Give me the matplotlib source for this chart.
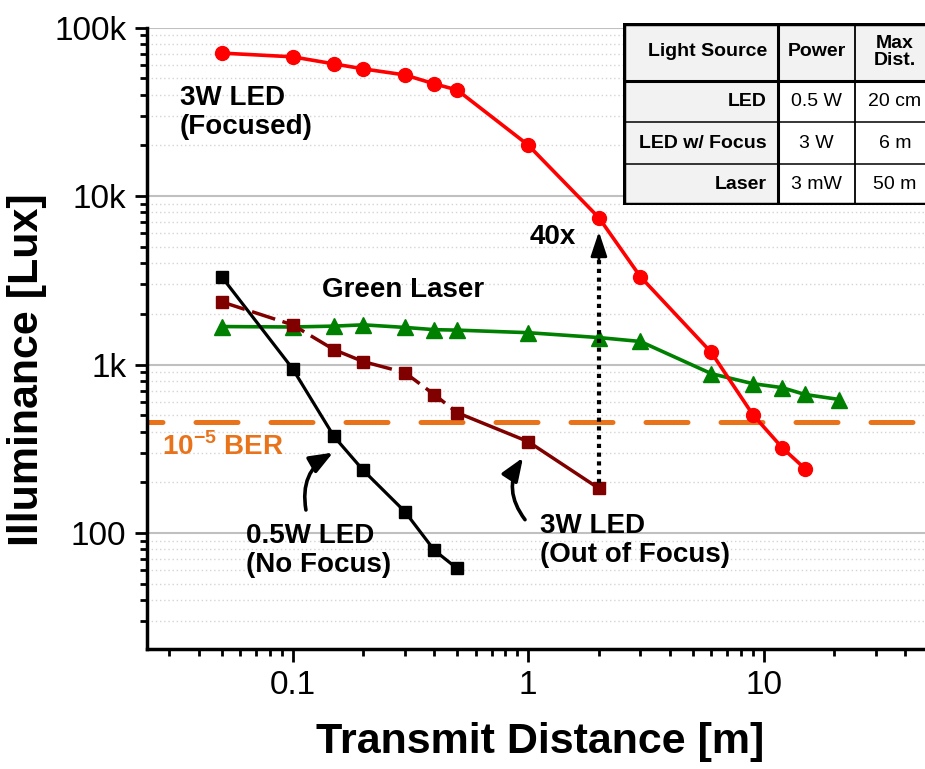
import numpy as np
import matplotlib
matplotlib.use("Agg")
import matplotlib.pyplot as plt
from matplotlib.ticker import LogLocator, FixedLocator, FixedFormatter, NullFormatter
from matplotlib.patches import Rectangle

# 3W LED focado
dist_foc = [0.05, 0.1, 0.15, 0.2, 0.3, 0.4, 0.5, 1, 2, 3, 6, 9, 12, 15]
lux_foc = [70500, 67000, 60800, 56800, 52300, 46300, 42600, 20100, 7430, 3320, 1180, 505, 321, 241]

# laser verde
dist_laser = [0.05, 0.1, 0.15, 0.2, 0.3, 0.4, 0.5, 1, 2, 3, 6, 9, 12, 15, 21]
lux_laser = [1680, 1670, 1690, 1720, 1660, 1610, 1600, 1545, 1445, 1370, 883, 770, 729, 664, 620]

# 0.5W LED sem foco
dist_05 = [0.05, 0.1, 0.15, 0.2, 0.3, 0.4, 0.5]
lux_05 = [3320, 946, 374, 235, 134, 79, 61.6]

# 3W LED fora de foco
dist_3w = [0.05, 0.1, 0.15, 0.2, 0.3, 0.4, 0.5, 1, 2]
lux_3w = [2355, 1720, 1225, 1040, 895, 663, 518, 349, 184]

ber_lim = 458  # limiar BER 10^-5

ytick_vals = [100, 1000, 10000, 100000]
ytick_lbl = ["100", "1k", "10k", "100k"]
xtick_vals = [0.1, 1, 10]
xtick_lbl = ["0.1", "1", "10"]

# tabela
tab_head = ["Light Source", "Power", "Max\nDist."]
tab_fonte = ["LED", "LED w/ Focus", "Laser"]
tab_pot = ["0.5 W", "3 W", "3 mW"]
tab_dist = ["20 cm", "6 m", "50 m"]

plt.rcParams['font.family'] = ['Liberation Sans', 'DejaVu Sans']
plt.rcParams['mathtext.fontset'] = 'custom'
plt.rcParams['mathtext.rm'] = 'Liberation Sans'
plt.rcParams['mathtext.bf'] = 'Liberation Sans:bold'

fig = plt.figure(figsize=(9.25, 7.69), dpi=100)
ax = fig.add_axes([147/925, 1-649/769, 1-147/925, (649-27.5)/769])
ax.set_xscale('log')
ax.set_yscale('log')
ax.set_xlim(0.0241, 48.5)
ax.set_ylim(20.5, 100000)

# grade
ax.yaxis.grid(True, which='major', color='#c0c0c0', lw=1.5, ls='-')
ax.yaxis.grid(True, which='minor', color='#d4d4d4', lw=1, ls=(0, (1, 2)))
ax.set_axisbelow(True)

ax.axhline(ber_lim, color='#E8731A', lw=3.6, ls=(5.3, (8.4, 6.6)), dash_capstyle='round', zorder=2)

ax.plot(dist_foc, lux_foc, '-o', color='#FF0000', lw=2.6, ms=10, zorder=4)
ax.plot(dist_laser, lux_laser, '-^', color='#008000', lw=2.6, ms=11, zorder=3)
ax.plot(dist_05, lux_05, '-s', color='black', lw=2.3, ms=8, zorder=3)
ax.plot(dist_3w[:7], lux_3w[:7], color='#800000', lw=2.5, ls=(0, (7, 2.2)), zorder=3)
ax.plot(dist_3w[6:], lux_3w[6:], color='#800000', lw=2.5, zorder=3)
ax.plot(dist_3w, lux_3w, 's', color='#800000', ms=8, zorder=3)

# seta 40x
ax.plot([dist_3w[-1], dist_3w[-1]], [lux_3w[-1] * 1.07, 4600], color='black', lw=3,
        ls=(0, (1.0, 1.1)), zorder=5)
ax.annotate('', xy=(dist_3w[-1], 6150), xytext=(dist_3w[-1], 4200),
            arrowprops=dict(arrowstyle='-|>,head_length=1.5,head_width=0.5', color='black', lw=2,
                            shrinkA=0, shrinkB=0),
            zorder=5)
ax.text(1.02, 5730, '40x', fontsize=20, fontweight='bold', ha='left', va='center')

# setas curvas
ax.annotate('', xy=(0.1486, 300), xytext=(0.114, 137),
            arrowprops=dict(arrowstyle='-|>,head_length=1.4,head_width=0.55', color='black', lw=2.6,
                            connectionstyle='arc3,rad=-0.35', shrinkA=0, shrinkB=0))
ax.annotate('', xy=(0.952, 280), xytext=(0.971, 120),
            arrowprops=dict(arrowstyle='-|>,head_length=1.4,head_width=0.55', color='black', lw=2.6,
                            connectionstyle='arc3,rad=-0.35', shrinkA=0, shrinkB=0))

# rótulos
ax.text(0.0333, 31200, '3W LED\n(Focused)', fontsize=20, fontweight='bold', ha='left', va='center',
        linespacing=1.15)
ax.text(0.294, 2780, 'Green Laser', fontsize=20, fontweight='bold', ha='center', va='center')
ax.text(0.0279, 325, r'10$^{\mathbf{-5}}$ BER', fontsize=20, fontweight='bold', color='#E8731A',
        ha='left', va='center')
ax.text(0.0636, 78.5, '0.5W LED\n(No Focus)', fontsize=20, fontweight='bold', ha='left', va='center',
        linespacing=1.15)
ax.text(1.125, 90, '3W LED\n(Out of Focus)', fontsize=20, fontweight='bold', ha='left', va='center',
        linespacing=1.15)

# eixos
for s in ['top', 'right']:
    ax.spines[s].set_visible(False)
for s in ['left', 'bottom']:
    ax.spines[s].set_linewidth(2.5)

ax.yaxis.set_major_locator(FixedLocator(ytick_vals))
ax.yaxis.set_major_formatter(FixedFormatter(ytick_lbl))
ax.yaxis.set_minor_locator(LogLocator(base=10, subs=np.arange(2, 10), numticks=20))
ax.yaxis.set_minor_formatter(NullFormatter())
ax.xaxis.set_major_locator(FixedLocator(xtick_vals))
ax.xaxis.set_major_formatter(FixedFormatter(xtick_lbl))
ax.xaxis.set_minor_locator(LogLocator(base=10, subs=np.arange(2, 10), numticks=20))
ax.xaxis.set_minor_formatter(NullFormatter())
ax.tick_params(which='major', direction='out', length=9, width=2, pad=6, labelsize=24)
ax.tick_params(which='minor', direction='out', length=5, width=2)

ax.set_xlabel('Transmit Distance [m]', fontsize=31, fontweight='bold', va='center')
ax.xaxis.set_label_coords(0.505, -0.15)
ax.set_ylabel('Illuminance [Lux]', fontsize=31, fontweight='bold', va='center')
ax.yaxis.set_label_coords(-0.154, 0.45)

# tabela
col_w = [155, 77, 80]
row_h = [58, 41, 42, 41]
tw, th = sum(col_w), sum(row_h)
axt = fig.add_axes([623/925, 1-205/769, tw/925, th/769])
axt.set_xlim(0, tw)
axt.set_ylim(th, 0)
axt.axis('off')
cx = np.concatenate([[0], np.cumsum(col_w)])
ry = np.concatenate([[0], np.cumsum(row_h)])
linhas = [tab_head] + [[tab_fonte[i], tab_pot[i], tab_dist[i]] for i in range(3)]
for r in range(4):
    for c in range(3):
        cinza = (r == 0) or (c == 0)
        axt.add_patch(Rectangle((cx[c], ry[r]), col_w[c], row_h[r],
                                facecolor='#f2f2f2' if cinza else 'white', edgecolor='none'))
        yc = (ry[r] + ry[r+1]) / 2
        txt = linhas[r][c]
        if c == 0:
            axt.text(cx[1] - 11, yc, txt, ha='right', va='center', fontsize=14, fontweight='bold')
        else:
            axt.text((cx[c] + cx[c+1]) / 2, yc, txt, ha='center', va='center', fontsize=14,
                     fontweight='bold' if r == 0 else 'normal', linespacing=1.05)
for y in ry[2:4]:
    axt.plot([0, tw], [y, y], color='black', lw=1.1)
axt.plot([cx[2], cx[2]], [0, th], color='black', lw=1.3)
axt.plot([0, tw], [ry[1], ry[1]], color='black', lw=2.2)
axt.plot([cx[1], cx[1]], [0, th], color='black', lw=2.2)
axt.plot([0, tw], [1, 1], color='black', lw=2.5)
axt.plot([0, tw], [th - 1, th - 1], color='black', lw=2.5)
axt.plot([1, 1], [0, th], color='black', lw=2.5)

fig.savefig('out.png', dpi=100)
